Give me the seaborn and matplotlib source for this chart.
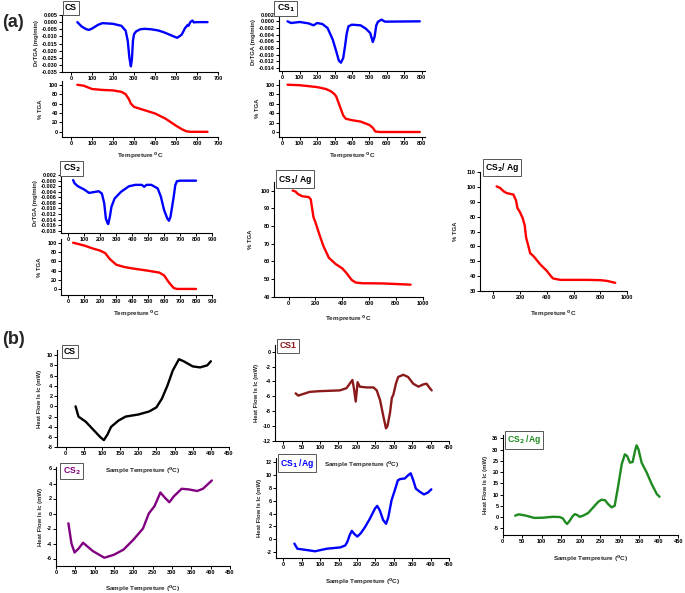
import numpy as np
import pandas as pd
import matplotlib
matplotlib.use("Agg")
import matplotlib.pyplot as plt
import seaborn as sns

# ---------------- data ----------------
# (a) CS
cs_dtg_t = [30, 50, 70, 85, 100, 130, 150, 200, 240, 260, 270, 278, 285, 290, 295, 300, 310, 330, 350, 380, 414, 440, 463, 485, 506, 527, 543, 556, 560, 568, 578, 585, 600, 650]
cs_dtg_v = [0.0, -0.003, -0.0048, -0.0055, -0.0045, -0.0018, -0.0007, -0.0012, -0.0026, -0.006, -0.013, -0.025, -0.031, -0.026, -0.013, -0.0085, -0.0065, -0.005, -0.0047, -0.005, -0.0058, -0.007, -0.0084, -0.0098, -0.011, -0.0088, -0.0042, -0.0019, -0.0025, 0.0, 0.0011, -0.0002, 0.0, 0.0]
cs_tga_t = [30, 60, 100, 150, 200, 240, 260, 275, 285, 300, 350, 400, 450, 500, 530, 550, 570, 650]
cs_tga_v = [100, 98, 91, 89, 88, 85, 80, 70, 60, 53, 46, 39, 28, 13, 5, 1, 0, 0]

# (a) CS1
cs1_dtg_t = [30, 50, 100, 150, 180, 200, 230, 260, 290, 310, 325, 337, 350, 360, 370, 380, 400, 450, 480, 505, 520, 530, 540, 550, 570, 590, 790]
cs1_dtg_v = [0.0, -0.0005, -0.0002, -0.0006, -0.0012, -0.0005, -0.0008, -0.002, -0.0055, -0.009, -0.0118, -0.0124, -0.011, -0.0076, -0.0037, -0.0015, -0.001, -0.0012, -0.0022, -0.0035, -0.0062, -0.0047, -0.0012, -0.0001, 0.0005, -0.0001, 0.0]
cs1_tga_t = [30, 100, 200, 250, 280, 300, 310, 330, 350, 365, 400, 450, 500, 520, 535, 560, 790]
cs1_tga_v = [100, 99, 95, 91, 86, 80, 75, 55, 35, 28, 25, 22, 15, 9, 1, 0, 0]

# (a) CS2
cs2_dtg_t = [30, 40, 60, 100, 130, 150, 190, 210, 225, 235, 245, 250, 260, 270, 290, 330, 380, 420, 460, 475, 490, 520, 560, 580, 600, 620, 630, 640, 660, 670, 680, 700, 800]
cs2_dtg_v = [0.0002, -0.001, -0.002, -0.0032, -0.0044, -0.0042, -0.0038, -0.0046, -0.0082, -0.0136, -0.0152, -0.0156, -0.013, -0.0094, -0.0064, -0.004, -0.002, -0.0015, -0.0015, -0.0022, -0.0015, -0.0015, -0.0028, -0.0058, -0.0106, -0.0136, -0.0144, -0.013, -0.0058, -0.0016, -0.0002, 0.0, 0.0]
cs2_tga_t = [30, 100, 150, 200, 230, 260, 300, 350, 400, 500, 570, 600, 630, 660, 680, 800]
cs2_tga_v = [100, 94, 88, 83, 78, 65, 53, 48, 45, 40, 36, 30, 15, 3, 1, 1]

# (a) CS1/Ag, CS2/Ag
cs1ag_t = [30, 50, 70, 100, 150, 165, 175, 185, 200, 230, 260, 300, 350, 400, 430, 470, 500, 550, 700, 910]
cs1ag_v = [100, 99.5, 98, 96.8, 96.3, 95, 90, 85, 82, 75, 68.5, 62, 58.5, 56, 53.5, 49.5, 48, 47.6, 47.5, 46.8]
cs2ag_t = [25, 50, 80, 100, 150, 170, 180, 200, 220, 235, 245, 260, 275, 300, 350, 400, 430, 445, 500, 700, 800, 850, 910]
cs2ag_v = [100.5, 99.5, 97, 96, 95, 91, 86, 83, 79, 74, 66, 61, 55.5, 53.5, 48, 43.5, 40, 38.5, 37.5, 37.5, 37.3, 36.8, 35.5]

# (b) DSC
dsc_cs_t = [27, 35, 55, 75, 95, 105, 115, 125, 145, 165, 200, 230, 250, 265, 280, 295, 312, 325, 350, 370, 390, 400]
dsc_cs_v = [0, -2, -3, -4.5, -6, -6.6, -5.5, -4, -2.8, -2, -1.6, -1.0, -0.2, 1.5, 4, 7, 9.2, 8.8, 7.8, 7.6, 8, 8.8]
dsc_cs1_t = [34, 41, 72, 100, 154, 172, 188, 192, 197, 200, 202, 208, 226, 245, 254, 263, 272, 279, 283, 290, 295, 299, 306, 312, 326, 339, 353, 367, 380, 389, 398, 403]
dsc_cs1_v = [-5.6, -5.9, -5.4, -5.3, -5.2, -4.9, -3.8, -4.9, -6.7, -5.2, -4.1, -4.7, -4.8, -4.8, -5.2, -6.5, -8.7, -10.3, -10.0, -8.2, -6.2, -5.8, -4.3, -3.4, -3.1, -3.4, -4.3, -4.7, -4.4, -4.3, -4.9, -5.2]
dsc_cs2_t = [32, 40, 48, 58, 70, 95, 125, 150, 175, 200, 225, 240, 255, 270, 280, 293, 305, 325, 345, 365, 380, 403]
dsc_cs2_v = [-1.3, -4.0, -5.2, -4.7, -3.9, -5.0, -5.9, -5.5, -4.8, -3.5, -2.0, 0.0, 1.0, 2.8, 2.2, 1.5, 2.3, 3.3, 3.2, 3.0, 3.3, 4.4]
dsc_cs1ag_t = [30, 38, 63, 86, 118, 154, 168, 174, 180, 186, 193, 201, 210, 222, 235, 249, 255, 262, 271, 279, 285, 294, 303, 311, 317, 330, 339, 346, 353, 360, 371, 382, 393, 402]
dsc_cs1ag_v = [-0.7, -1.5, -1.7, -1.9, -1.5, -1.3, -1.0, -0.4, 0.6, 1.3, 0.8, 0.4, 0.9, 1.9, 3.2, 4.8, 5.2, 4.5, 3.0, 2.4, 3.4, 6.1, 7.7, 9.2, 9.4, 9.5, 10.0, 10.3, 9.2, 7.9, 7.4, 7.0, 7.3, 7.8]
dsc_cs2ag_t = [32, 41, 60, 81, 103, 129, 146, 154, 161, 165, 172, 179, 185, 191, 197, 206, 219, 232, 245, 253, 262, 270, 279, 287, 296, 305, 313, 319, 326, 333, 339, 343, 348, 356, 369, 382, 395, 402]
dsc_cs2ag_v = [0.6, 1.2, 0.6, -0.4, -0.3, 0.1, 0.0, -0.6, -2.4, -3.1, -1.6, 0.3, 1.3, 0.9, 0.1, 0.6, 1.8, 4.3, 6.8, 7.7, 7.5, 5.8, 4.3, 5.0, 13.9, 23.5, 27.9, 27.1, 24.2, 24.5, 29.4, 31.9, 30.1, 24.2, 19.8, 14.6, 10.2, 9.0]

# ---------------- style ----------------
sns.set_style("ticks")
plt.rcParams["font.family"] = ["Liberation Sans", "DejaVu Sans"]
plt.rcParams["font.weight"] = "bold"
plt.rcParams["axes.labelweight"] = "bold"

W, H = 685, 593
fig = plt.figure(figsize=(W / 100, H / 100), dpi=100)

TICK_FS = 4.0
LAB_FS = 4.3


def add_ax(l, t, r, b):
    ax = fig.add_axes([l / W, 1 - b / H, (r - l) / W, (b - t) / H])
    ax.set_facecolor("none")
    for s in ["top", "right"]:
        ax.spines[s].set_visible(False)
    for s in ["left", "bottom"]:
        ax.spines[s].set_linewidth(0.8)
        ax.spines[s].set_color("black")
    ax.tick_params(labelsize=TICK_FS, length=2, width=0.7, pad=1, direction="out", colors="black")
    return ax


def draw(ax, t, v, color, lw=1.7):
    df = pd.DataFrame({"T": t, "V": v})
    sns.lineplot(data=df, x="T", y="V", ax=ax, color=color, lw=lw, sort=False, estimator=None)
    ax.set_xlabel("")
    ax.set_ylabel("")


def box_label(x, y, s, color="black", fs=6.2):
    fig.text(x / W, 1 - y / H, s, ha="center", va="center", fontsize=fs, fontweight="bold", color=color,
             bbox=dict(boxstyle="square,pad=0.25", fc="white", ec="#555555", lw=0.7))


def fmt_ticks(ax, xt, yt, yfmt="{:g}"):
    ax.set_xticks(xt)
    ax.set_yticks(yt)
    ax.set_xticklabels([str(x) for x in xt], fontsize=TICK_FS, fontweight="bold")
    ax.set_yticklabels([yfmt.format(y) for y in yt], fontsize=TICK_FS, fontweight="bold")


def ylab(ax, s, pad=2):
    ax.set_ylabel(s, fontsize=LAB_FS, fontweight="bold", labelpad=pad)


def xlab(ax, s, pad=3):
    ax.set_xlabel(s, fontsize=LAB_FS + 0.3, fontweight="bold", labelpad=pad)


BLUE = "#0000ff"
RED = "#ff0000"

# ---- (a) CS ----
ax = add_ax(62, 15, 218, 72)
draw(ax, cs_dtg_t, cs_dtg_v, BLUE)
ax.set_xlim(-43, 700); ax.set_ylim(-0.035, 0.005)
fmt_ticks(ax, list(range(0, 701, 100)), list(np.round(np.arange(-0.035, 0.0051, 0.005), 3)), "{:.3f}")
ylab(ax, "DrTGA (mg/min)")

ax = add_ax(62, 81, 218, 137)
draw(ax, cs_tga_t, cs_tga_v, RED)
ax.set_xlim(-43, 700); ax.set_ylim(-11, 108)
fmt_ticks(ax, list(range(0, 701, 100)), list(range(0, 101, 20)))
ylab(ax, "% TGA", pad=4)
xlab(ax, "Tempreture $^{0}$C")

# ---- (a) CS1 ----
ax = add_ax(279, 14, 425, 71)
draw(ax, cs1_dtg_t, cs1_dtg_v, BLUE)
ax.set_xlim(-19, 820); ax.set_ylim(-0.0149, 0.0022)
fmt_ticks(ax, list(range(0, 801, 100)), list(np.round(np.arange(-0.014, 0.0021, 0.002), 3)), "{:.3f}")
ylab(ax, "DrTGA (mg/min)")

ax = add_ax(279, 80, 425, 137)
draw(ax, cs1_tga_t, cs1_tga_v, RED)
ax.set_xlim(-19, 820); ax.set_ylim(-10.6, 110)
fmt_ticks(ax, list(range(0, 801, 100)), list(range(0, 101, 20)))
ylab(ax, "% TGA", pad=4)
xlab(ax, "Tempreture $^{0}$C")

# ---- (a) CS2 ----
ax = add_ax(61, 174, 212, 232.7)
draw(ax, cs2_dtg_t, cs2_dtg_v, BLUE)
ax.set_xlim(-46, 900); ax.set_ylim(-0.0187, 0.0024)
fmt_ticks(ax, list(range(0, 901, 100)), list(np.round(np.arange(-0.018, 0.0021, 0.002), 3)), "{:.3f}")
ylab(ax, "DrTGA (mg/min)")

ax = add_ax(61, 239, 212, 295)
draw(ax, cs2_tga_t, cs2_tga_v, RED)
ax.set_xlim(-46, 900); ax.set_ylim(-12, 108)
fmt_ticks(ax, list(range(0, 901, 100)), list(range(0, 101, 20)))
ylab(ax, "% TGA", pad=4)
xlab(ax, "Tempreture $^{0}$C")

# ---- (a) CS1/Ag ----
ax = add_ax(274.3, 181.7, 422.7, 296.7)
draw(ax, cs1ag_t, cs1ag_v, RED)
ax.set_xlim(-107, 1000); ax.set_ylim(40, 105)
fmt_ticks(ax, list(range(0, 1001, 200)), list(range(40, 101, 10)))
ylab(ax, "% TGA", pad=6)
xlab(ax, "Tempreture $^{0}$C", pad=6)

# ---- (a) CS2/Ag ----
ax = add_ax(480, 172.3, 627.3, 291)
draw(ax, cs2ag_t, cs2ag_v, RED)
ax.set_xlim(-99, 1000); ax.set_ylim(30, 110)
fmt_ticks(ax, list(range(0, 1001, 200)), list(range(30, 111, 10)))
ylab(ax, "% TGA", pad=6)
xlab(ax, "Tempreture $^{0}$C", pad=6)

# ---- (b) DSC ----
XT = list(range(0, 451, 50))
ax = add_ax(56.7, 350, 229, 447.3)
draw(ax, dsc_cs_t, dsc_cs_v, "black")
ax.set_xlim(-25, 450); ax.set_ylim(-8, 11)
fmt_ticks(ax, XT, list(range(-8, 11, 2)))
ylab(ax, "Heat Flow Is Ic (mW)", pad=3)
xlab(ax, "Sample Tempreture ($^{0}$C)", pad=7)

ax = add_ax(275, 345, 449, 441)
draw(ax, dsc_cs1_t, dsc_cs1_v, "#8b1a1a")
ax.set_xlim(-22, 450); ax.set_ylim(-12, 0.9)
fmt_ticks(ax, XT, list(range(-12, 1, 2)))
ylab(ax, "Heat Flow Is Ic (mW)", pad=3)
xlab(ax, "Sample Tempreture ($^{0}$C)", pad=7)

ax = add_ax(56, 467, 230, 566)
draw(ax, dsc_cs2_t, dsc_cs2_v, "#800080")
ax.set_xlim(0, 450); ax.set_ylim(-7, 6.2)
fmt_ticks(ax, XT, list(range(-6, 7, 2)))
ylab(ax, "Heat Flow Is Ic (mW)", pad=3)
xlab(ax, "Sample Tempreture ($^{0}$C)", pad=6)

ax = add_ax(276, 458, 449, 558.3)
draw(ax, dsc_cs1ag_t, dsc_cs1ag_v, BLUE)
ax.set_xlim(-20, 450); ax.set_ylim(-3, 12.7)
fmt_ticks(ax, XT, list(range(-2, 13, 2)))
ylab(ax, "Heat Flow Is Ic (mW)", pad=3)
xlab(ax, "Sample Tempreture ($^{0}$C)", pad=7)

ax = add_ax(502.7, 435, 678.3, 535)
draw(ax, dsc_cs2ag_t, dsc_cs2ag_v, "#1f8a1f")
ax.set_xlim(0, 450); ax.set_ylim(-8, 36.5)
fmt_ticks(ax, XT, list(range(-5, 36, 5)))
ylab(ax, "Heat Flow Is Ic (mW)", pad=3)
xlab(ax, "Sample Tempreture ($^{0}$C)", pad=7)

# ---- panel tags and sample boxes ----
fig.text(2 / W, 1 - 31 / H, "(a)", fontsize=13, fontweight="bold", ha="left", va="bottom")
fig.text(2 / W, 1 - 348 / H, "(b)", fontsize=13, fontweight="bold", ha="left", va="bottom")

box_label(71, 8, "CS")
box_label(285.5, 8.5, "CS$_{\\mathbf{1}}$")
box_label(71.5, 168.5, "CS$_{\\mathbf{2}}$")
box_label(295, 179, "CS$_{\\mathbf{1}}$/ Ag")
box_label(502, 167.5, "CS$_{\\mathbf{2}}$/ Ag")
box_label(70, 351.5, "CS")
box_label(288, 346, "CS1", color="#8b1a1a")
box_label(71.5, 471, "CS$_{\\mathbf{2}}$", color="#800080")
box_label(297, 463, "CS$_{\\mathbf{1}}$ /Ag", color=BLUE)
box_label(524, 440, "CS$_{\\mathbf{2}}$ /Ag", color="#1f8a1f")

fig.savefig("out.png", dpi=100)
